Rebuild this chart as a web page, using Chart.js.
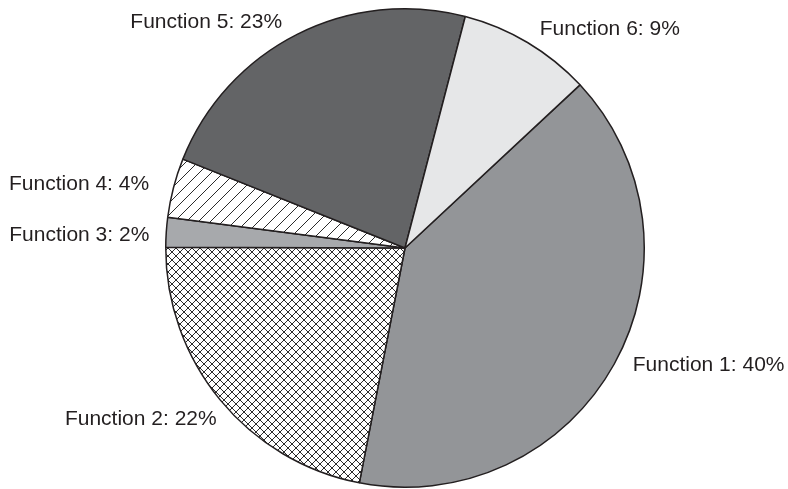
<!DOCTYPE html>
<html>
<head>
<meta charset="utf-8">
<script src="https://cdn.jsdelivr.net/npm/chart.js@4/dist/chart.umd.min.js"></script>
<style>
  html, body { margin: 0; padding: 0; background: #fff; }
  canvas { display: block; }
</style>
</head>
<body>
<canvas id="pie" width="788" height="489"></canvas>
<script>
const categories = ['Function 1', 'Function 2', 'Function 3', 'Function 4', 'Function 5', 'Function 6'];
const shares = [40, 22, 2, 4, 23, 9];

// small hand nudges so each label sits where the original placed it
const labelNudge = [[1, -10], [12, 4.5], [3, 2.5], [-5, 0], [-6, 4], [2, 2.5]];

function crossHatch() {
  const c = document.createElement('canvas');
  c.width = 8;
  c.height = 8;
  const ctx = c.getContext('2d');
  ctx.fillStyle = '#ffffff';
  ctx.fillRect(0, 0, 8, 8);
  ctx.strokeStyle = '#2b2b2b';
  ctx.lineWidth = 1;
  ctx.beginPath();
  ctx.moveTo(-1, -1); ctx.lineTo(9, 9);
  ctx.moveTo(-1, 9); ctx.lineTo(9, -1);
  ctx.stroke();
  return ctx.createPattern(c, 'repeat');
}

function diagonalHatch() {
  const s = 12;
  const c = document.createElement('canvas');
  c.width = s;
  c.height = s;
  const ctx = c.getContext('2d');
  ctx.fillStyle = '#ffffff';
  ctx.fillRect(0, 0, s, s);
  ctx.strokeStyle = '#2b2b2b';
  ctx.lineWidth = 1;
  ctx.beginPath();
  ctx.moveTo(-2, s + 2); ctx.lineTo(s + 2, -2);
  ctx.moveTo(-2, 2); ctx.lineTo(2, -2);
  ctx.moveTo(s - 2, s + 2); ctx.lineTo(s + 2, s - 2);
  ctx.stroke();
  return ctx.createPattern(c, 'repeat');
}

const fills = ['#939598', crossHatch(), '#a7a9ac', diagonalHatch(), '#636466', '#e6e7e8'];

// draws "Function n: x%" just outside each slice
const outsideLabels = {
  id: 'outsideLabels',
  afterDatasetsDraw(chart) {
    const ctx = chart.ctx;
    const meta = chart.getDatasetMeta(0);
    const size = 21;
    ctx.save();
    ctx.font = `${size}px "Liberation Sans", Arial, sans-serif`;
    ctx.fillStyle = '#231f20';
    ctx.textBaseline = 'alphabetic';
    meta.data.forEach((arc, i) => {
      const { x, y, startAngle, endAngle, outerRadius } = arc.getProps(['x', 'y', 'startAngle', 'endAngle', 'outerRadius'], true);
      const mid = (startAngle + endAngle) / 2;
      const r = outerRadius + 20;
      const [dx, dy] = labelNudge[i];
      const px = x + Math.cos(mid) * r + dx;
      const py = y + Math.sin(mid) * r + dy + size * 0.36;
      ctx.textAlign = Math.cos(mid) >= 0 ? 'left' : 'right';
      ctx.fillText(`${categories[i]}: ${shares[i]}%`, px, py);
    });
    ctx.restore();
  },
};

new Chart(document.getElementById('pie'), {
  type: 'pie',
  data: {
    labels: categories,
    datasets: [
      {
        data: shares,
        backgroundColor: fills,
        borderColor: '#231f20',
        borderWidth: 1.5,
        hoverOffset: 0,
      },
    ],
  },
  options: {
    responsive: false,
    animation: false,
    rotation: 47,
    layout: { padding: { left: 165, right: 143, top: 8, bottom: 1 } },
    plugins: {
      legend: { display: false },
      tooltip: { enabled: false },
    },
    events: [],
  },
  plugins: [outsideLabels],
});
</script>
</body>
</html>
